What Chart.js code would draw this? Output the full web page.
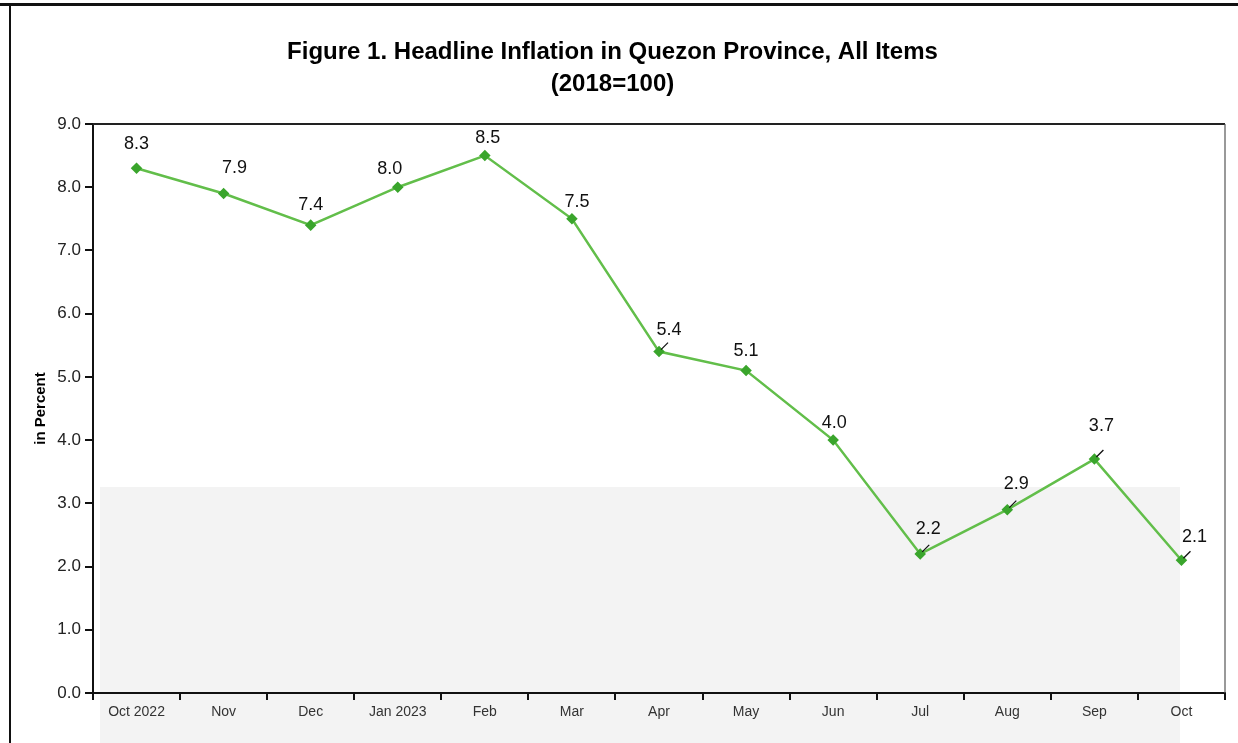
<!DOCTYPE html>
<html>
<head>
<meta charset="utf-8">
<script src="https://cdn.jsdelivr.net/npm/chart.js@4/dist/chart.umd.min.js"></script>
<style>
html,body{margin:0;padding:0;background:#fff;}
#wrap{width:1238px;height:743px;}
</style>
</head>
<body>
<div id="wrap"><canvas id="c" width="1238" height="743"></canvas></div>
<script>
// ---- data ----
const months = ["Oct 2022","Nov","Dec","Jan 2023","Feb","Mar","Apr","May","Jun","Jul","Aug","Sep","Oct"];
const inflation = [8.3, 7.9, 7.4, 8.0, 8.5, 7.5, 5.4, 5.1, 4.0, 2.2, 2.9, 3.7, 2.1];
const yTicks = [0,1,2,3,4,5,6,7,8,9];
const titleLines = ["Figure 1. Headline Inflation in Quezon Province, All Items", "(2018=100)"];
const yTitle = "in Percent";

// ---- label placement (layout only) ----
const labelShift = [[0,-24],[11,-25],[0,-20],[-8,-18],[3,-18],[5,-17],[10,-22],[0,-20],[1,-17],[8,-25],[9,-26],[7,-33],[13,-23]];
const leader = [false,false,false,false,false,false,true,false,false,true,true,true,true];

const bgPlugin = {
  id:'bg',
  beforeDraw(chart){
    const ctx = chart.ctx;
    ctx.save();
    ctx.fillStyle = '#ffffff';
    ctx.fillRect(0,0,chart.width,chart.height);
    ctx.fillStyle = '#f3f3f3';
    ctx.fillRect(100,487,1080,chart.height-487);
    ctx.restore();
  },
  afterDraw(chart){
    const ctx = chart.ctx, a = chart.chartArea;
    ctx.save();
    // outer frame
    ctx.strokeStyle = '#111';
    ctx.lineWidth = 3;
    ctx.beginPath(); ctx.moveTo(0,4.5); ctx.lineTo(chart.width,4.5); ctx.stroke();
    ctx.lineWidth = 2;
    ctx.beginPath(); ctx.moveTo(10,6); ctx.lineTo(10,chart.height); ctx.stroke();
    // plot top / right border
    ctx.strokeStyle = '#222';
    ctx.lineWidth = 2;
    ctx.beginPath(); ctx.moveTo(a.left,a.top); ctx.lineTo(a.right,a.top); ctx.stroke();
    ctx.strokeStyle = '#555';
    ctx.lineWidth = 1.2;
    ctx.beginPath(); ctx.moveTo(a.right,a.top); ctx.lineTo(a.right,a.bottom); ctx.stroke();
    ctx.restore();
  }
};

const labelPlugin = {
  id:'vlabels',
  afterDatasetsDraw(chart){
    const ctx = chart.ctx;
    const meta = chart.getDatasetMeta(0);
    ctx.save();
    ctx.font = '18px "Liberation Sans", Arial, sans-serif';
    ctx.fillStyle = '#111';
    ctx.textAlign = 'center';
    ctx.textBaseline = 'middle';
    meta.data.forEach((pt,i)=>{
      const v = chart.data.datasets[0].data[i];
      const s = labelShift[i];
      ctx.fillText(v.toFixed(1), pt.x + s[0], pt.y + s[1]);
      if (leader[i]) {
        ctx.strokeStyle = '#111';
        ctx.lineWidth = 1.3;
        ctx.beginPath();
        ctx.moveTo(pt.x + 2, pt.y - 2);
        ctx.lineTo(pt.x + 9, pt.y - 9);
        ctx.stroke();
      }
    });
    ctx.restore();
  }
};

new Chart(document.getElementById('c'), {
  type:'line',
  data:{
    labels: months,
    datasets:[{
      data: inflation,
      borderColor:'#62be4a',
      borderWidth:2.5,
      pointStyle:'rectRot',
      pointRadius:4,
      pointBackgroundColor:'#3aa52c',
      pointBorderColor:'#3aa52c',
      tension:0
    }]
  },
  options:{
    responsive:false,
    animation:false,
    devicePixelRatio:1,
    layout:{padding:{left:0,right:13,top:0,bottom:0}},
    plugins:{
      legend:{display:false},
      tooltip:{enabled:false},
      title:{
        display:true,
        text:titleLines,
        color:'#000',
        font:{family:'"Liberation Sans", Arial, sans-serif',size:24,weight:'bold',lineHeight:1.333},
        padding:{top:36,bottom:24}
      }
    },
    scales:{
      x:{
        type:'category',
        offset:true,
        grid:{display:true,offset:true,drawOnChartArea:false,drawTicks:true,tickLength:7,color:'#111',lineWidth:2},
        border:{display:true,color:'#111',width:2},
        ticks:{color:'#333',font:{family:'"Liberation Sans", Arial, sans-serif',size:14},padding:4,maxRotation:0,autoSkip:false},
        afterFit(s){ s.height = 50; }
      },
      y:{
        min:0,max:9,
        afterBuildTicks(s){ s.ticks = yTicks.map(v=>({value:v})); },
        grid:{display:true,drawOnChartArea:false,drawTicks:true,tickLength:8,color:'#111',lineWidth:2},
        border:{display:true,color:'#111',width:2},
        ticks:{color:'#222',font:{family:'"Liberation Sans", Arial, sans-serif',size:17},padding:4,callback:v=>Number(v).toFixed(1)},
        title:{display:true,text:yTitle,color:'#000',font:{family:'"Liberation Sans", Arial, sans-serif',size:15,weight:'bold'},padding:{top:32,bottom:0}},
        afterFit(s){ s.width = 93; }
      }
    }
  },
  plugins:[bgPlugin,labelPlugin]
});
</script>
</body>
</html>
